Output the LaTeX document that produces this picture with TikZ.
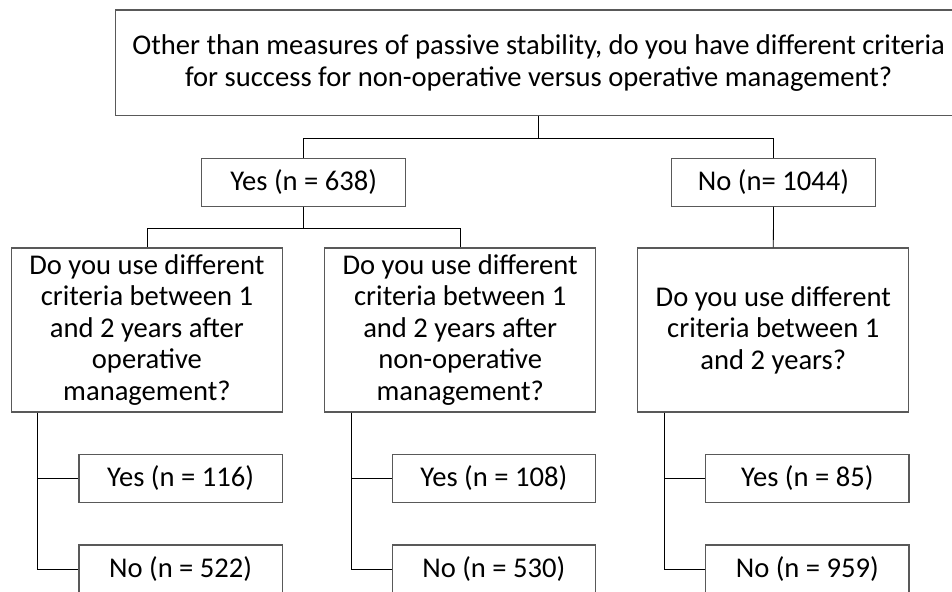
\documentclass[tikz,border=0pt]{standalone}
\usepackage{fontspec}
\setmainfont{Carlito}
\usetikzlibrary{positioning}

\begin{document}
\begin{tikzpicture}[x=1pt, y=-1pt,
    box/.style={draw=black!65, line width=1.3pt, align=center, inner sep=0pt,
        font=\fontsize{28.6}{31.5}\selectfont},
    link/.style={draw=black, line width=0.8pt}]
    \useasboundingbox (0,0) rectangle (952,591);
    \clip (0,0) rectangle (952,591);

    % Main question
    \node[box, minimum width=846, minimum height=105.7] (top) at (538.6,62.8)
        {Other than measures of passive stability, do you have different criteria\\for success for non-operative versus operative management?};

    % First answers
    \node[box, minimum width=204, minimum height=47.6] (yes) at (303.7,182.5) {Yes (n = 638)};
    \node[box, minimum width=204, minimum height=47.6] (no) at (773.5,182.5) {No (n= 1044)};

    % Follow-up questions
    \node[box, minimum width=271, minimum height=164] (qop) at (146.9,330)
        {Do you use different\\criteria between 1\\and 2 years after\\operative\\management?};
    \node[box, minimum width=271, minimum height=164] (qnon) at (460.2,330)
        {Do you use different\\criteria between 1\\and 2 years after\\non-operative\\management?};
    \node[box, minimum width=271, minimum height=164] (qall) at (773.3,330)
        {Do you use different\\criteria between 1\\and 2 years?};

    % Second answers
    \node[box, minimum width=203.3, minimum height=48] (yesop) at (180.6,478.3) {Yes (n = 116)};
    \node[box, minimum width=203.3, minimum height=48] (noop) at (180.6,569) {No (n = 522)};
    \node[box, minimum width=203.3, minimum height=48] (yesnon) at (493.8,478.3) {Yes (n = 108)};
    \node[box, minimum width=203.3, minimum height=48] (nonon) at (493.8,569) {No (n = 530)};
    \node[box, minimum width=203.3, minimum height=48] (yesall) at (807.3,478.3) {Yes (n = 85)};
    \node[box, minimum width=203.3, minimum height=48] (noall) at (807.3,569) {No (n = 959)};

    % Connectors
    \draw[link] (top.south) -- ++(0,22) coordinate (split);
    \draw[link] (split) -| (yes.north);
    \draw[link] (split) -| (no.north);
    \draw[link] (yes.south) -- ++(0,21) coordinate (splityes);
    \draw[link] (splityes) -| (qop.north);
    \draw[link] (splityes) -| (qnon.north);
    \draw[link] (no.south) -- (qall.north);
    \draw[link] ([xshift=27pt]qop.south west) |- (yesop.west);
    \draw[link] ([xshift=27pt]qop.south west) |- (noop.west);
    \draw[link] ([xshift=27pt]qnon.south west) |- (yesnon.west);
    \draw[link] ([xshift=27pt]qnon.south west) |- (nonon.west);
    \draw[link] ([xshift=27pt]qall.south west) |- (yesall.west);
    \draw[link] ([xshift=27pt]qall.south west) |- (noall.west);
\end{tikzpicture}
\end{document}
